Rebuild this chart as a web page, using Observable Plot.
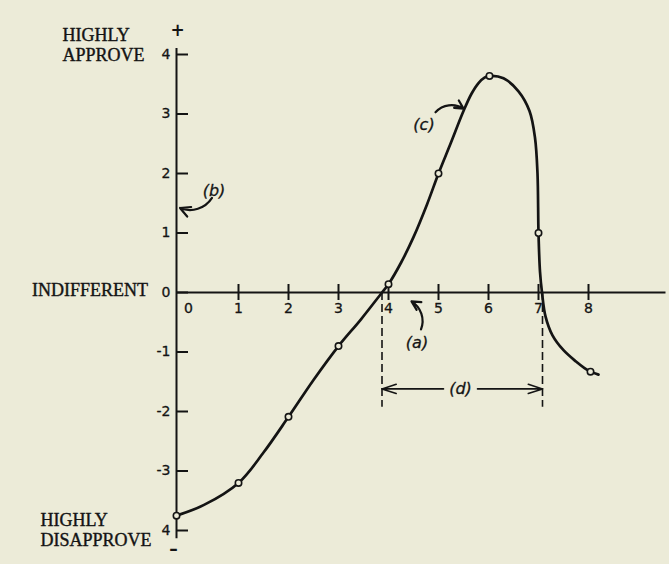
<!DOCTYPE html>
<html>
<head>
<meta charset="utf-8">
<script src="https://cdn.jsdelivr.net/npm/d3@7"></script>
<script src="https://cdn.jsdelivr.net/npm/@observablehq/plot@0.6"></script>
<style>
  html, body { margin: 0; padding: 0; background: #ecebd8; }
  #chart { width: 669px; height: 564px; overflow: hidden; }
  svg { display: block; }
</style>
</head>
<body>
<div id="chart"></div>
<script>
// ---- data ----
const yAxisAt = -0.24;                     // x value where the vertical axis stands
const xTicks = [1, 2, 3, 4, 5, 6, 7, 8];
const xTickLabels = ["0", "1", "2", "3", "4", "5", "6", "7", "8"];
const xTickLabelValues = [0, 1, 2, 3, 4, 5, 6, 7, 8];
const yTicks = [4, 3, 2, 1, 0, -1, -2, -3, -4];
const yTickLabels = ["4", "3", "2", "1", "0", "-1", "-2", "-3", "4"];

// return potential curve, traced point by point
const curveX = [-0.24, 0.31, 1.0, 1.5, 2.0, 2.5, 3.0, 3.45, 3.87, 4.0, 4.25, 4.5, 4.77, 5.0, 5.24, 5.5, 5.66, 5.8, 5.92, 6.02, 6.3, 6.6, 6.82, 6.93, 6.98, 7.0, 7.03, 7.07, 7.14, 7.28, 7.5, 7.75, 7.92, 8.04, 8.2];
const curveY = [-3.75, -3.57, -3.2, -2.69, -2.09, -1.47, -0.9, -0.45, 0, 0.14, 0.5, 0.93, 1.48, 2.0, 2.5, 3.05, 3.34, 3.52, 3.61, 3.64, 3.6, 3.38, 3.05, 2.6, 2.0, 1.0, 0.35, 0, -0.4, -0.72, -0.97, -1.16, -1.27, -1.33, -1.38];

// observed points (open circles)
const obsX = [-0.24, 1, 2, 3, 4, 5, 6.02, 7, 8.04];
const obsY = [-3.75, -3.2, -2.09, -0.9, 0.14, 2.0, 3.64, 1.0, -1.33];

// range of tolerable behaviour (d)
const crossings = [3.87, 7.08];
const dashBottom = -1.93;
const rangeY = -1.62;

// annotation letters
const annLabels = ["(a)", "(b)", "(c)", "(d)"];
const annX = [4.57, 0.51, 4.71, 5.44];
const annY = [-0.85, 1.7, 2.81, -1.62];

// side labels
const sideLabels = ["HIGHLY", "APPROVE", "INDIFFERENT", "HIGHLY", "DISAPPROVE"];
const sideX = [-2.52, -2.52, -3.13, -2.96, -2.96];
const sideY = [4.33, 3.98, 0.03, -3.83, -4.17];

// ---- build ----
const ink = "#141414";
const paper = "#ecebd8";
const curve = curveX.map((x, i) => ({x, y: curveY[i]}));
const obs = obsX.map((x, i) => ({x, y: obsY[i]}));
const xLab = xTickLabels.map((t, i) => ({t, x: xTickLabelValues[i]}));
const yLab = yTickLabels.map((t, i) => ({t, y: yTicks[i]}));
const ann = annLabels.map((t, i) => ({t, x: annX[i], y: annY[i]}));
const side = sideLabels.map((t, i) => ({t, x: sideX[i], y: sideY[i]}));

const numFont = {fontSize: 14, fontFamily: "DejaVu Sans", fill: ink, stroke: ink, strokeWidth: 0.3};

const chart = Plot.plot({
  width: 669,
  height: 564,
  margin: 0,
  style: {background: "transparent", overflow: "visible"},
  x: {domain: [0, 8], range: [188, 588], axis: null},
  y: {domain: [-4, 4], range: [530, 54], axis: null},
  marks: [
    // axes
    Plot.ruleY([0], {x1: yAxisAt, x2: 9.55, stroke: ink, strokeWidth: 2}),
    Plot.ruleX([yAxisAt], {y1: -4.14, y2: 4.1, stroke: ink, strokeWidth: 2}),
    Plot.ruleX(xTicks, {x: d => d, y1: 0, y2: 0, insetTop: -8, insetBottom: -8, stroke: ink, strokeWidth: 2}),
    Plot.ruleY(yTicks, {y: d => d, x1: yAxisAt, x2: yAxisAt, insetRight: -12, stroke: ink, strokeWidth: 2}),
    Plot.text(xLab, {x: "x", y: 0, text: "t", dy: 16, ...numFont}),
    Plot.text(yLab, {x: yAxisAt, y: "y", text: "t", dx: -6, textAnchor: "end", ...numFont}),
    Plot.text(["+"], {x: yAxisAt, y: 4.1, text: d => d, dy: -18, dx: 1, fontSize: 17, fontWeight: "bold", fontFamily: "DejaVu Sans", fill: ink}),
    Plot.text(["\u2013"], {x: yAxisAt, y: -4.14, text: d => d, dy: 11, dx: -3, fontSize: 17, fontWeight: "bold", fontFamily: "DejaVu Sans", fill: ink}),
    Plot.text(side, {x: "x", y: "y", text: "t", textAnchor: "start", fontSize: 18, fontFamily: "Liberation Serif", fill: ink, stroke: ink, strokeWidth: 0.4}),
    // range (d)
    Plot.ruleX(crossings, {x: d => d, y1: 0, y2: dashBottom, stroke: ink, strokeWidth: 1.6, strokeDasharray: "8,4"}),
    Plot.arrow([{x1: 5.1, x2: crossings[0]}, {x1: 5.78, x2: crossings[1]}], {x1: "x1", x2: "x2", y1: rangeY, y2: rangeY, stroke: ink, strokeWidth: 1.6, headLength: 14, headAngle: 36}),
    // curve
    Plot.line(curve, {x: "x", y: "y", curve: "catmull-rom", stroke: ink, strokeWidth: 2.7}),
    Plot.dot(obs, {x: "x", y: "y", r: 3.2, fill: paper, stroke: ink, strokeWidth: 1.6}),
    // annotation arrows
    Plot.arrow([{x1: 4.65, y1: -0.62, x2: 4.46, y2: -0.15}], {x1: "x1", y1: "y1", x2: "x2", y2: "y2", bend: -40, stroke: ink, strokeWidth: 2.2, headLength: 8, headAngle: 55}),
    Plot.arrow([{x1: 0.47, y1: 1.59, x2: -0.17, y2: 1.42}], {x1: "x1", y1: "y1", x2: "x2", y2: "y2", bend: 40, stroke: ink, strokeWidth: 2.2, headLength: 8, headAngle: 55}),
    Plot.arrow([{x1: 4.94, y1: 3.03, x2: 5.5, y2: 3.09}], {x1: "x1", y1: "y1", x2: "x2", y2: "y2", bend: 40, stroke: ink, strokeWidth: 2.2, headLength: 8, headAngle: 55}),
    Plot.text(ann, {x: "x", y: "y", text: "t", fontSize: 16, fontStyle: "italic", fontFamily: "DejaVu Sans", fill: ink, stroke: ink, strokeWidth: 0.3})
  ]
});
document.getElementById("chart").appendChild(chart);
</script>
</body>
</html>
